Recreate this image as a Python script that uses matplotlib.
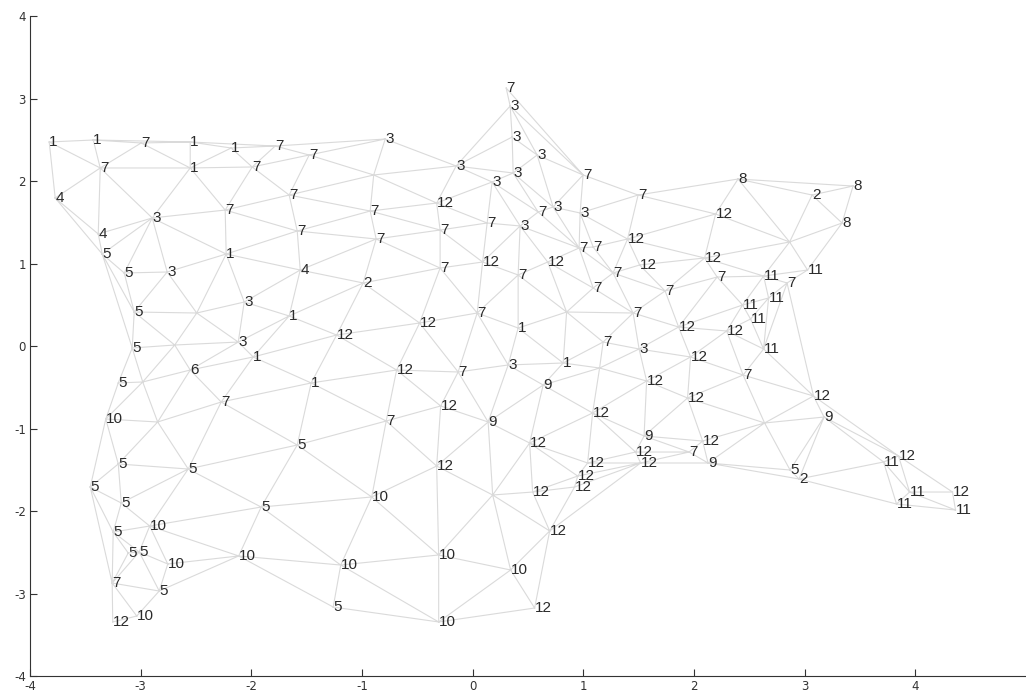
import numpy as np
import matplotlib
matplotlib.use("Agg")
import matplotlib.pyplot as plt
import matplotlib.tri as mtri
from matplotlib import font_manager

# ---- data: node positions and their labels ("" = unlabeled node) ----
labels = ["1","1","7","1","1","7","7","3","7","3","3","3","3","3","3",
          "7","1","7","4","3","7","7","12","7","7","7","7","7","7","3",
          "3","3","7","7","8","2","8","8","12","12","7","7","4","5","1",
          "5","3","4","2","7","12","12","7","7","12","12","7","7","7","11",
          "7","11","11","11","11","11","7","1","12","12","7","3","12","1","3",
          "9","12","7","12","12","9","12","7","12","12","9","12","12","12","12",
          "12","12","10","12","12","9","5","2","11","12","11","11","12","11","1",
          "12","12","7","12","7","1","12","9","7","5","12","10","10","10","5",
          "10","3","5","5","3","1","6","5","7","10","5","5","5","5","5",
          "10","5","5","5","10","10","7","5","12","10",
          "","","","","","","","","",""]
xs = [-3.826,-3.428,-2.995,-2.552,-2.182,-1.784,-1.477,-0.790,0.303,0.339,0.357,0.583,0.366,0.176,-0.149,
      -3.365,-2.552,-1.992,-3.772,-2.895,-2.236,-1.658,-0.325,-0.926,-1.585,-0.872,-0.294,0.131,0.592,0.727,
      0.971,0.429,0.998,1.495,2.398,3.067,3.437,3.338,2.195,1.400,0.962,1.089,-3.383,-3.347,-2.227,
      -3.148,-2.760,-1.558,-0.989,-0.294,0.090,0.678,0.411,1.269,1.509,2.096,2.209,1.089,1.739,2.629,
      2.841,3.026,2.674,2.439,2.511,2.629,1.450,0.411,1.861,2.295,1.179,1.504,1.969,0.818,0.321,
      0.637,1.572,2.444,1.942,1.084,1.549,2.078,1.956,1.472,1.518,2.127,0.515,1.039,0.949,0.921,
      0.542,0.696,0.343,0.560,3.080,3.175,2.868,2.949,3.713,3.848,3.948,3.830,4.336,4.363,-1.658,
      -1.229,-0.479,0.041,-0.687,-0.131,-1.459,-0.289,0.140,-0.781,-1.585,-0.325,-0.912,-1.192,-0.307,-1.260,
      -0.307,-2.064,-3.058,-3.076,-2.118,-1.983,-2.552,-3.202,-2.272,-3.315,-3.202,-3.455,-2.570,-3.175,-1.911,
      -2.918,-3.248,-3.112,-3.013,-2.755,-2.114,-3.257,-2.832,-3.252,-3.035,
      -2.493,-2.692,-2.981,-2.846,0.181,0.849,1.147,-0.894,2.864,2.638]
ys = [2.473,2.497,2.461,2.473,2.400,2.424,2.315,2.509,3.127,2.909,2.533,2.315,2.097,1.988,2.182,
      2.158,2.158,2.170,1.794,1.552,1.648,1.830,1.733,1.636,1.394,1.297,1.406,1.491,1.624,1.685,
      1.612,1.455,2.073,1.830,2.024,1.830,1.939,1.491,1.600,1.297,1.188,1.200,1.358,1.115,1.115,
      0.885,0.897,0.921,0.764,0.945,1.018,1.018,0.861,0.885,0.982,1.067,0.836,0.703,0.667,0.848,
      0.764,0.921,0.582,0.497,0.327,-0.036,0.400,0.218,0.230,0.182,0.048,-0.036,-0.133,-0.206,-0.230,
      -0.473,-0.424,-0.352,-0.630,-0.812,-1.091,-1.152,-1.285,-1.285,-1.418,-1.418,-1.176,-1.418,-1.576,-1.709,
      -1.770,-2.242,-2.715,-3.176,-0.606,-0.861,-1.503,-1.612,-1.406,-1.333,-1.770,-1.915,-1.770,-1.988,0.364,
      0.133,0.279,0.400,-0.291,-0.315,-0.448,-0.727,-0.921,-0.909,-1.200,-1.455,-1.830,-2.655,-2.533,-3.164,
      -3.345,0.533,0.412,-0.024,0.048,-0.133,-0.291,-0.448,-0.679,-0.885,-1.430,-1.709,-1.491,-1.903,-1.952,
      -2.182,-2.255,-2.509,-2.497,-2.642,-2.545,-2.873,-2.970,-3.345,-3.273,
      0.400,0.012,-0.436,-0.921,-1.806,0.412,-0.267,2.073,1.261,-0.933]

x_ticks = [-4, -3, -2, -1, 0, 1, 2, 3, 4]
y_ticks = [-4, -3, -2, -1, 0, 1, 2, 3, 4]

# ---- figure ----
names = {f.name for f in font_manager.fontManager.ttflist}
label_font = "Liberation Sans Narrow" if "Liberation Sans Narrow" in names else "Liberation Sans"

fig = plt.figure(figsize=(10.26, 6.99), dpi=100)
ax = fig.add_axes([0.0292, 0.0329, 0.9708, 0.9442])

x = np.asarray(xs)
y = np.asarray(ys)
tri = mtri.Triangulation(x, y)
# hide triangles with very long edges (concave outline)
px, py = 110.7, 82.5
t = tri.triangles
def elen(a, b):
    return np.hypot((x[a] - x[b]) * px, (y[a] - y[b]) * py)
maxlen = np.max(np.stack([elen(t[:, 0], t[:, 1]), elen(t[:, 1], t[:, 2]),
                          elen(t[:, 2], t[:, 0])]), axis=0)
tri.set_mask(maxlen > 122)
ax.triplot(tri, color="#dadada", lw=0.8, zorder=1)

for xi, yi, lab in zip(xs, ys, labels):
    if lab:
        ax.text(xi, yi, lab, ha="left", va="center", fontsize=11,
                color="#2a2a2a", family=label_font, zorder=3)

ax.set_xlim(-4, 5)
ax.set_ylim(-4, 4)
ax.set_xticks(x_ticks)
ax.set_yticks(y_ticks)
ax.set_xticklabels([str(v) for v in x_ticks])
ax.set_yticklabels([str(v) for v in y_ticks])
ax.spines["top"].set_visible(False)
ax.spines["right"].set_visible(False)
for s in ("left", "bottom"):
    ax.spines[s].set_color("#333333")
    ax.spines[s].set_linewidth(0.8)
ax.tick_params(direction="in", length=5, width=0.8, labelsize=8.5,
               colors="#333333", pad=3)

fig.savefig("out.png", dpi=100)
